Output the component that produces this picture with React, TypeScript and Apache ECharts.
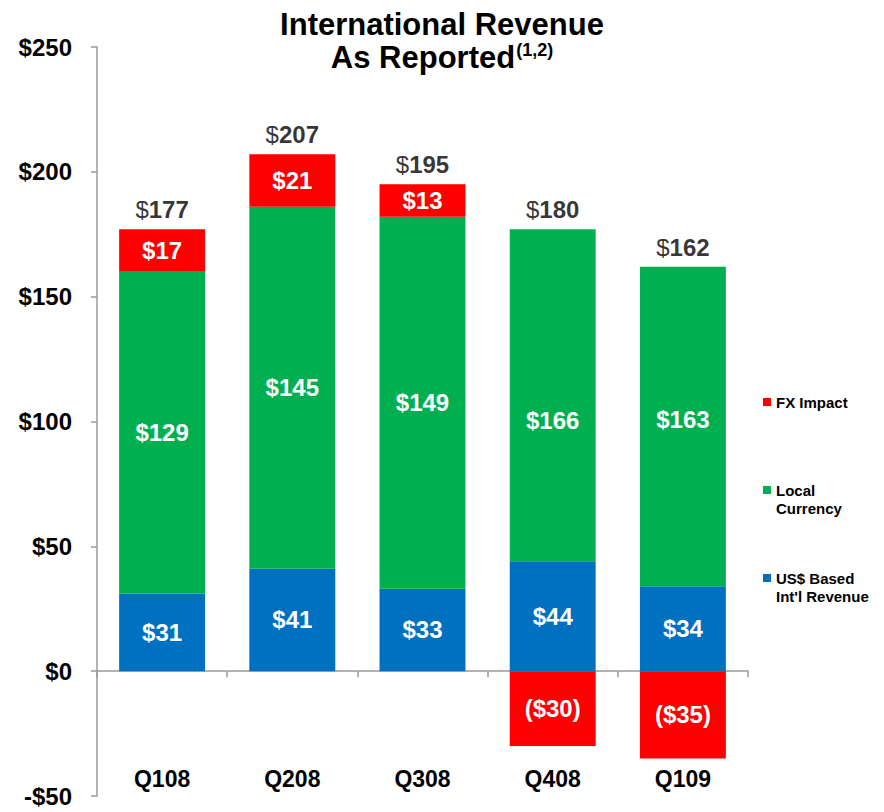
import React, { useEffect, useRef } from "react";
import * as echarts from "echarts";

const categories = ["Q108", "Q208", "Q308", "Q408", "Q109"];
const usBased = [31, 41, 33, 44, 34];
// visual heights of the green segments
const localCurrencyBars = [129, 145, 149, 133, 128];
// printed labels of the green segments
const localCurrencyLabels = [129, 145, 149, 166, 163];
const fxImpact = [17, 21, 13, -30, -35];
const totals = [177, 207, 195, 180, 162];
const seriesNames = ["US$ Based Int'l Revenue", "Local Currency", "FX Impact"];

const FONT = "'Liberation Sans', Arial, sans-serif";
const RED = "#FF0000";
const GREEN = "#00B050";
const BLUE = "#0070C0";
const AXIS_GRAY = "#9a9a9a";

const money = (v: number) => (v < 0 ? `($${Math.abs(v)})` : `$${v}`);
const greenLabelOffsets = [0, 0, 0, 25, -7];

export default function App() {
  const ref = useRef<HTMLDivElement>(null);

  useEffect(() => {
    if (!ref.current) return;
    const chart = echarts.init(ref.current, null, { renderer: "svg" });

    const stackTops = categories.map(
      (_, i) => usBased[i] + localCurrencyBars[i] + Math.max(fxImpact[i], 0)
    );

    const innerLabel = {
      show: true,
      position: "inside",
      color: "#fff",
      fontFamily: FONT,
      fontWeight: "bold",
      fontSize: 24,
    };

    const legendItems = [
      { color: RED, lines: ["FX Impact"], y: 402 },
      { color: GREEN, lines: ["Local", "Currency"], y: 490 },
      { color: BLUE, lines: ["US$ Based", "Int'l Revenue"], y: 578 },
    ];

    const graphics: any[] = [];
    legendItems.forEach((it) => {
      graphics.push({
        type: "rect",
        left: 763,
        top: it.y - 4,
        shape: { width: 8, height: 8 },
        style: { fill: it.color },
      });
      it.lines.forEach((line, j) => {
        graphics.push({
          type: "text",
          x: 776,
          y: it.y + j * 18,
          style: {
            text: line,
            fill: "#000",
            font: `bold 15px ${FONT}`,
            verticalAlign: "middle",
            align: "left",
          },
        });
      });
    });

    const option: any = {
      animation: false,
      backgroundColor: "#fff",
      title: {
        left: "center",
        top: 3,
        text: "{a|International Revenue}\n{a|As Reported}{s|(1,2)}",
        textStyle: {
          rich: {
            a: {
              fontFamily: FONT,
              fontWeight: "bold",
              fontSize: 31,
              lineHeight: 33,
              color: "#000",
            },
            s: {
              fontFamily: FONT,
              fontWeight: "bold",
              fontSize: 18,
              lineHeight: 33,
              verticalAlign: "top",
              color: "#000",
              padding: [0, 0, 0, 1],
            },
          },
        },
      },
      grid: { left: 97, right: 136, top: 47, bottom: 16, containLabel: false, outerBoundsMode: "none" },
      xAxis: [
        {
          type: "category",
          data: categories,
          axisLine: { onZero: true, lineStyle: { color: AXIS_GRAY, width: 1.5 } },
          axisTick: { show: true, inside: false, length: 6, lineStyle: { color: AXIS_GRAY, width: 1.5 } },
          axisLabel: { show: false },
          splitLine: { show: false },
        },
        {
          type: "category",
          data: categories,
          position: "bottom",
          axisLine: { show: false, onZero: false },
          axisTick: { show: false },
          axisLabel: {
            margin: -29,
            color: "#000",
            fontFamily: FONT,
            fontWeight: "bold",
            fontSize: 23,
          },
          splitLine: { show: false },
        },
      ],
      yAxis: {
        type: "value",
        min: -50,
        max: 250,
        interval: 50,
        axisLine: { show: true, lineStyle: { color: AXIS_GRAY, width: 1.5 } },
        axisTick: { show: true, inside: false, length: 6, lineStyle: { color: AXIS_GRAY, width: 1.5 } },
        splitLine: { show: false },
        axisLabel: {
          margin: 25,
          color: "#000",
          fontFamily: FONT,
          fontWeight: "bold",
          fontSize: 24,
          formatter: (v: number) => (v < 0 ? `-$${Math.abs(v)}` : `$${v}`),
        },
      },
      series: [
        {
          name: seriesNames[0],
          type: "bar",
          stack: "rev",
          barCategoryGap: "34%",
          itemStyle: { color: BLUE },
          label: { ...innerLabel, formatter: (p: any) => money(usBased[p.dataIndex]) },
          data: usBased,
        },
        {
          name: seriesNames[1],
          type: "bar",
          stack: "rev",
          itemStyle: { color: GREEN },
          label: innerLabel,
          data: localCurrencyBars.map((v, i) => ({
            value: v,
            label: {
              formatter: money(localCurrencyLabels[i]),
              offset: [0, greenLabelOffsets[i]],
            },
          })),
        },
        {
          name: seriesNames[2],
          type: "bar",
          stack: "rev",
          itemStyle: { color: RED },
          label: { ...innerLabel, formatter: (p: any) => money(fxImpact[p.dataIndex]) },
          data: fxImpact,
        },
        {
          name: "Total",
          type: "scatter",
          symbolSize: 1,
          itemStyle: { color: "rgba(0,0,0,0)" },
          silent: true,
          label: {
            show: true,
            position: "top",
            distance: 7,
            formatter: (p: any) => `{d|$}{n|${totals[p.dataIndex]}}`,
            rich: {
              d: { fontFamily: FONT, fontSize: 24, color: "#000" },
              n: { fontFamily: FONT, fontSize: 24, fontWeight: "bold", color: "#000" },
            },
          },
          data: stackTops,
        },
      ],
      graphic: graphics,
    };

    chart.setOption(option);
    return () => chart.dispose();
  }, []);

  return (
    <div
      ref={ref}
      style={{ position: "fixed", left: 0, top: 0, width: 884, height: 812 }}
    />
  );
}
